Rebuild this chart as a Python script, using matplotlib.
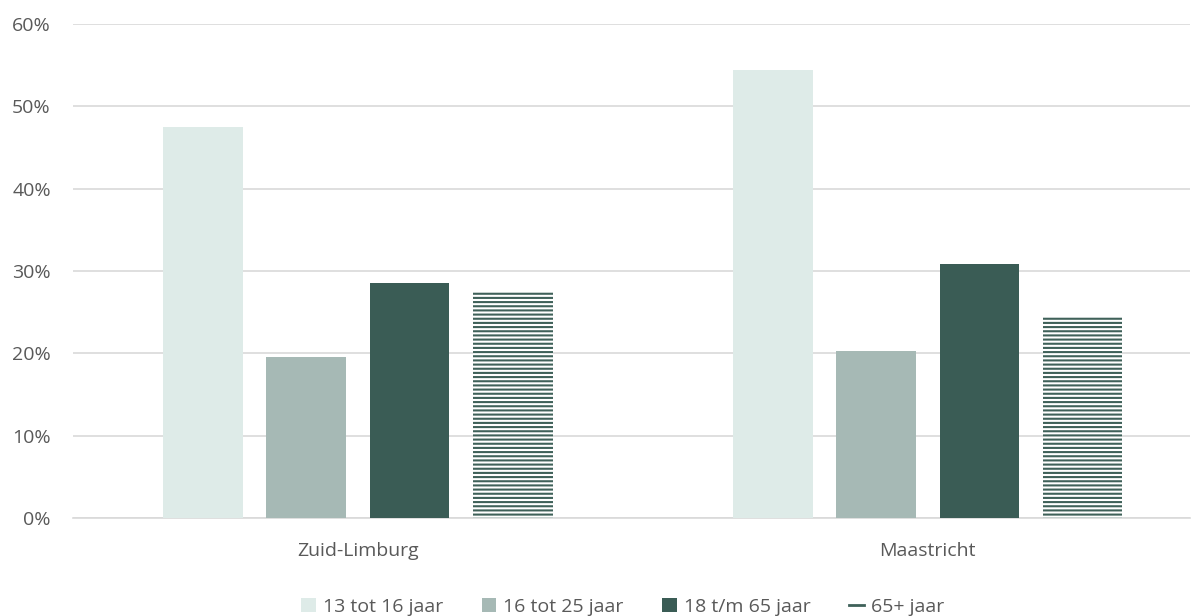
import matplotlib.pyplot as plt
import numpy as np
from matplotlib.patches import Patch
from matplotlib.lines import Line2D

# data
regions = ['Zuid-Limburg', 'Maastricht']
series = ['13 tot 16 jaar', '16 tot 25 jaar', '18 t/m 65 jaar', '65+ jaar']
v_13_16 = [47.5, 54.4]
v_16_25 = [19.5, 20.3]
v_18_65 = [28.5, 30.9]
v_65plus = [27.5, 24.5]

colors = ['#DEEBE8', '#A6B9B5', '#3A5C55', 'white']
hatch_color = '#3F6159'

plt.rcParams['font.family'] = ['Open Sans', 'DejaVu Sans']
plt.rcParams['hatch.linewidth'] = 1.5
plt.rcParams['hatch.color'] = hatch_color

fig = plt.figure(figsize=(12.02, 6.16), dpi=100)
ax = fig.add_axes([73 / 1202, 98 / 616, 1117 / 1202, 494 / 616])

x = np.arange(len(regions))
width = 0.14
step = 0.181
values = [v_13_16, v_16_25, v_18_65, v_65plus]
for i, vals in enumerate(values):
    pos = x + (i - 1.5) * step
    if i == 3:
        ax.bar(pos, vals, width, color='white', hatch='----', edgecolor=hatch_color,
               linewidth=0, zorder=3)
    else:
        ax.bar(pos, vals, width, color=colors[i], zorder=3)

ax.set_ylim(0, 60)
ax.set_xlim(-0.5, 1.46)
ax.set_yticks(np.arange(0, 61, 10))
ax.set_yticklabels([f'{t}%' for t in range(0, 61, 10)])
ax.set_xticks(x)
ax.set_xticklabels(regions)
ax.yaxis.grid(True, color='#D9D9D9', linewidth=1.2, zorder=0)
ax.set_axisbelow(True)
for s in ['top', 'right', 'left']:
    ax.spines[s].set_visible(False)
ax.spines['bottom'].set_color('#D9D9D9')
ax.spines['bottom'].set_linewidth(1.2)
ax.tick_params(axis='both', length=0, labelsize=14, labelcolor='#595959')
ax.tick_params(axis='y', pad=16)
ax.tick_params(axis='x', pad=17)

handles = [Patch(facecolor=colors[0]), Patch(facecolor=colors[1]), Patch(facecolor=colors[2]),
           Line2D([], [], color=hatch_color, linewidth=2)]
fig.legend(handles, series, loc='lower center', bbox_to_anchor=(0.518, -0.028), ncol=4,
           frameon=False, fontsize=14, labelcolor='#595959', handlelength=0.75,
           handleheight=0.75, handletextpad=0.35, columnspacing=2.0)

fig.savefig('out.png', dpi=100)
